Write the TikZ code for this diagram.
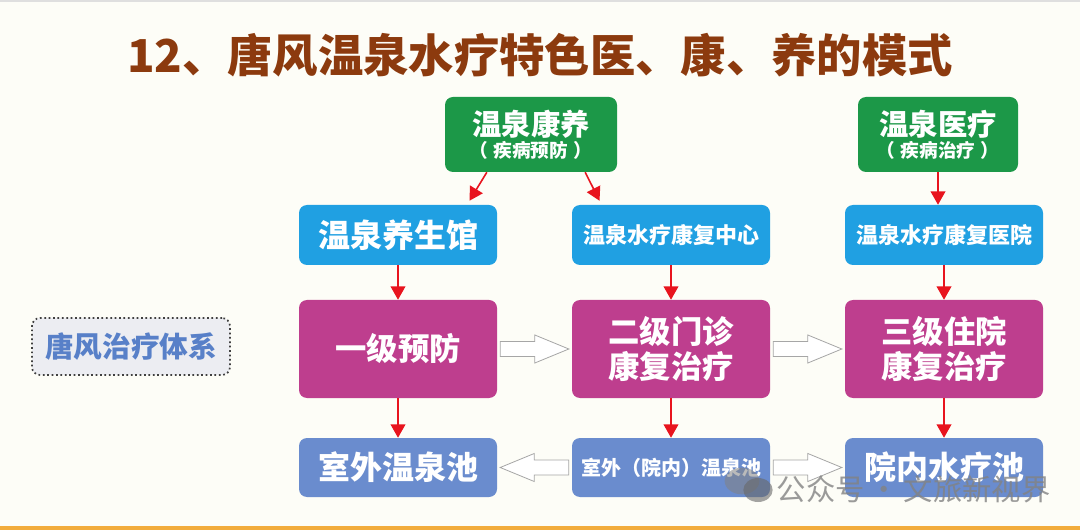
\documentclass[tikz,border=0pt]{standalone}
\usepackage{fontspec}
\newfontfamily\cjk{Noto Sans CJK SC}
\usetikzlibrary{calc,arrows.meta}
\definecolor{bgc}{RGB}{253,253,247}
\definecolor{titlec}{RGB}{140,58,14}
\definecolor{greenc}{RGB}{28,152,72}
\definecolor{bluec}{RGB}{32,160,226}
\definecolor{magc}{RGB}{190,62,142}
\definecolor{botc}{RGB}{106,140,206}
\definecolor{labelc}{RGB}{88,128,200}
\definecolor{labelbg}{RGB}{236,237,242}
\definecolor{orangec}{RGB}{242,172,60}
\definecolor{arrowred}{RGB}{232,20,30}
\definecolor{wmc}{RGB}{130,130,130}
\tikzset{
  box/.style={rounded corners=6pt, text=white, align=center, font=\cjk\bfseries, inner sep=0pt},
  greenbox/.style={box, fill=greenc, minimum height=56.25pt},
  bluebox/.style={box, fill=bluec, minimum width=148.5pt, minimum height=45pt},
  magbox/.style={box, fill=magc, minimum width=148.5pt, minimum height=73.5pt},
  botbox/.style={box, fill=botc, minimum width=148.5pt, minimum height=44.25pt},
  redarrow/.style={draw=arrowred, line width=1.2pt, -{Triangle[length=10pt,width=11pt]}},
  hollow/.style={draw=gray!70, fill=white, line width=0.6pt, line join=miter}
}
\begin{document}
\begin{tikzpicture}[x=0.75pt,y=-0.75pt]
\fill[bgc] (0,0) rectangle (1080,530);
\useasboundingbox (0,0) rectangle (1080,530);
\fill[gray!25] (0,0) rectangle (1080,2);
\fill[orangec] (0,526) rectangle (1080,530);

\node[font=\cjk\bfseries\fontsize{34pt}{38pt}\selectfont, text=titlec] (title) at (540,55) {12、唐风温泉水疗特色医、康、养的模式};

\node[greenbox, minimum width=129pt] (g1) at (531,134.5)
  {{\fontsize{22pt}{24pt}\selectfont 温泉康养}\\[1pt]{\fontsize{14pt}{16pt}\selectfont （\;疾病预防\;）}};
\node[greenbox, minimum width=120pt] (g2) at (938,134.5)
  {{\fontsize{22pt}{24pt}\selectfont 温泉医疗}\\[1pt]{\fontsize{14pt}{16pt}\selectfont （\;疾病治疗\;）}};

\node[bluebox, font=\cjk\bfseries\fontsize{24pt}{28pt}\selectfont] (b1) at (398,235) {温泉养生馆};
\node[bluebox, font=\cjk\bfseries\fontsize{16.5pt}{20pt}\selectfont] (b2) at (671,235) {温泉水疗康复中心};
\node[bluebox, font=\cjk\bfseries\fontsize{16.5pt}{20pt}\selectfont] (b3) at (944,235) {温泉水疗康复医院};

\node[magbox, font=\cjk\bfseries\fontsize{23.5pt}{26pt}\selectfont] (m1) at (398,349) {一级预防};
\node[magbox, font=\cjk\bfseries\fontsize{23.5pt}{26pt}\selectfont] (m2) at (671,349) {二级门诊\\康复治疗};
\node[magbox, font=\cjk\bfseries\fontsize{23.5pt}{26pt}\selectfont] (m3) at (944,349) {三级住院\\康复治疗};

\node[botbox, font=\cjk\bfseries\fontsize{24pt}{28pt}\selectfont] (o1) at (398,467.5) {室外温泉池};
\node[botbox, font=\cjk\bfseries\fontsize{15pt}{18pt}\selectfont] (o2) at (671,467.5) {室外（院内）温泉池};
\node[botbox, font=\cjk\bfseries\fontsize{24pt}{28pt}\selectfont] (o3) at (944,467.5) {院内水疗池};

\node[draw=black!75, dotted, line width=1.3pt, fill=labelbg, rounded corners=6pt,
      minimum width=148.5pt, minimum height=42.75pt, inner sep=0pt,
      text=labelc, font=\cjk\bfseries\fontsize{21.5pt}{24pt}\selectfont] (lab) at (131,346.5) {唐风治疗体系};

% red arrows
\draw[redarrow] ($(g1.south west)!0.244!(g1.south east)$) -- ($(b1.north west)!0.86!(b1.north east)+(0,3pt)$);
\draw[redarrow] ($(g1.south west)!0.814!(g1.south east)$) -- ($(b2.north west)!0.14!(b2.north east)+(0,3pt)$);
\draw[redarrow] (g2.south) -- (g2.south |- b3.north);
\draw[redarrow] (b1.south) -- (m1.north);
\draw[redarrow] (b2.south) -- (m2.north);
\draw[redarrow] (b3.south) -- (m3.north);
\draw[redarrow] (m1.south) -- (o1.north);
\draw[redarrow] (m2.south) -- (o2.north);
\draw[redarrow] (m3.south) -- (o3.north);

% hollow block arrows (right-pointing)
\foreach \a/\b in {m1/m2, m2/m3, o2/o3}{
  \path[hollow] let \p1=($(\a.east)+(2.2pt,0)$), \p2=($(\b.west)+(-2.2pt,0)$) in
    (\x1,\y1+5.6pt) -- (\x2-25.5pt,\y1+5.6pt) -- (\x2-25.5pt,\y1+10.5pt) -- (\x2,\y1)
    -- (\x2-25.5pt,\y1-10.5pt) -- (\x2-25.5pt,\y1-5.6pt) -- (\x1,\y1-5.6pt) -- cycle;
}
% left-pointing
\path[hollow] let \p1=($(o2.west)+(-2.2pt,0)$), \p2=($(o1.east)+(2.2pt,0)$) in
    (\x1,\y1+5.6pt) -- (\x2+25.5pt,\y1+5.6pt) -- (\x2+25.5pt,\y1+10.5pt) -- (\x2,\y1)
    -- (\x2+25.5pt,\y1-10.5pt) -- (\x2+25.5pt,\y1-5.6pt) -- (\x1,\y1-5.6pt) -- cycle;

% watermark
\fill[wmc, opacity=0.55] (742,481) ellipse (13pt and 10pt);
\fill[wmc!80!black, opacity=0.6] (758,490) ellipse (11pt and 9pt);
\node[text=wmc, opacity=0.8, font=\cjk\fontsize{22pt}{24pt}\selectfont, anchor=west] (wm) at (772,489) {公众号\,·\,文旅新视界};
\end{tikzpicture}
\end{document}
